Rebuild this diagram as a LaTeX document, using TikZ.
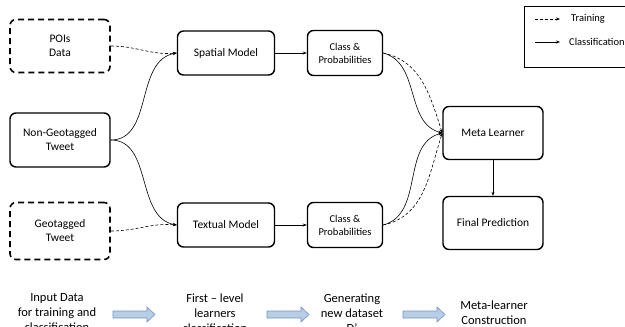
\documentclass[tikz,border=0pt]{standalone}
\usepackage{fontspec}
\setmainfont{Carlito}
\usetikzlibrary{arrows.meta}
\definecolor{barrowfill}{HTML}{B9CDE5}
\definecolor{barrowdraw}{HTML}{7196C4}
\begin{document}
\begin{tikzpicture}[x=1pt,y=-1pt,
  box/.style={draw,line width=1.4pt,rounded corners=6pt,align=center,inner sep=0pt,font=\fontsize{11.5}{14}\selectfont},
  dbox/.style={box,dash pattern=on 6pt off 4pt,line width=1.6pt},
  small/.style={font=\fontsize{10.5}{13}\selectfont},
  conn/.style={line width=0.6pt,-{Stealth[length=4pt,width=3pt]}},
  dconn/.style={conn,dash pattern=on 3pt off 2pt},
  lbl/.style={align=center,font=\fontsize{12.5}{15}\selectfont,inner sep=0pt},
  barrow/.style={draw=barrowdraw,fill=barrowfill,line width=0.6pt}]
\useasboundingbox (0,0) rectangle (625,327);
\clip (0,0) rectangle (625,327);
% nodes
\node[dbox,minimum width=100pt,minimum height=53pt] (poi) at (60,46) {POIs\\Data};
\node[box,minimum width=100pt,minimum height=54pt] (ngt) at (60,140) {Non-Geotagged\\Tweet};
\node[dbox,minimum width=100pt,minimum height=57pt] (gt) at (60,231) {Geotagged\\Tweet};
\node[box,minimum width=97pt,minimum height=44pt] (sm) at (226,53) {Spatial Model};
\node[box,minimum width=97pt,minimum height=44pt] (tm) at (226,225) {Textual Model};
\node[box,small,minimum width=75pt,minimum height=45pt] (cp1) at (345,53) {Class \&\\Probabilities};
\node[box,small,minimum width=75pt,minimum height=45pt] (cp2) at (345,225) {Class \&\\Probabilities};
\node[box,minimum width=100pt,minimum height=53pt] (ml) at (493,133) {Meta Learner};
\node[box,minimum width=100pt,minimum height=53pt] (fp) at (493,223) {Final Prediction};
% connectors
\draw[dconn] (poi.east) to[out=0,in=185] (sm.west);
\draw[conn] (ngt.east) to[out=0,in=190] (sm.west);
\draw[conn] (ngt.east) to[out=0,in=170] (tm.west);
\draw[dconn] (gt.east) to[out=0,in=175] (tm.west);
\draw[conn] (sm.east) -- (cp1.west);
\draw[conn] (tm.east) -- (cp2.west);
\draw[conn] (cp1.east) to[out=-15,in=165] (ml.west);
\draw[dconn] (cp1.east) to[out=-12,in=108] (ml.west);
\draw[conn] (cp2.east) to[out=15,in=195] (ml.west);
\draw[dconn] (cp2.east) to[out=12,in=252] (ml.west);
\draw[conn] (ml.south) -- (fp.north);
% legend
\node[draw,line width=0.7pt,minimum width=110pt,minimum height=61pt,anchor=north west] (leg) at (524,6) {};
\coordinate (la1) at (535,19);
\coordinate (lb1) at (560,19);
\coordinate (la2) at (535,42);
\coordinate (lb2) at (560,42);
\draw[dconn] (la1) -- (lb1);
\draw[conn] (la2) -- (lb2);
\node[small,anchor=west,inner sep=0pt] (lt1) at (571,19) {Training};
\node[small,anchor=west,inner sep=0pt] (lt2) at (569,42) {Classification};
% bottom labels
\node[lbl] (b1) at (57,313) {Input Data\\for training and\\classification};
\node[lbl] (b2) at (215,313) {First – level\\learners\\classification};
\node[lbl] (b3) at (352,313) {Generating\\new dataset\\D’};
\node[lbl] (b4) at (494,313) {Meta-learner\\Construction};
% block arrows
\foreach \xa in {113,267,403}{
  \draw[barrow] (\xa,311) -- (\xa+34,311) -- (\xa+34,307) -- (\xa+42,314.5) -- (\xa+34,322) -- (\xa+34,318) -- (\xa,318) -- cycle;
}
\end{tikzpicture}
\end{document}
